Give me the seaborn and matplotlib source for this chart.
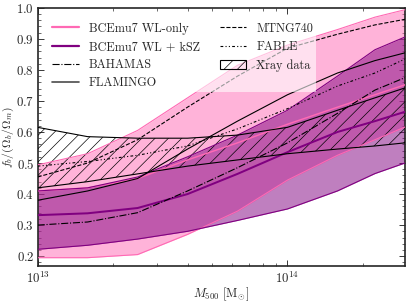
import numpy as np
import pandas as pd
import seaborn as sns
import matplotlib.pyplot as plt
from matplotlib.lines import Line2D
from matplotlib.patches import Patch
from matplotlib.ticker import MultipleLocator


# log10 of M500 [Msun], common grid for all curves
log_mass = [13.0, 13.2, 13.4, 13.6, 13.8, 14.0, 14.2, 14.35, 14.47]

# BCEmu7 WL-only band (lower, median, upper)
wl_lower = [0.195, 0.195, 0.205, 0.27, 0.345, 0.445, 0.525, 0.575, 0.616]
wl_median = [0.41, 0.42, 0.45, 0.51, 0.565, 0.625, 0.68, 0.72, 0.752]
wl_upper = [0.494, 0.53, 0.605, 0.71, 0.815, 0.88, 0.93, 0.97, 0.994]

# BCEmu7 WL + kSZ band
ksz_lower = [0.222, 0.235, 0.255, 0.28, 0.315, 0.352, 0.41, 0.466, 0.50]
ksz_median = [0.332, 0.338, 0.355, 0.40, 0.465, 0.535, 0.60, 0.635, 0.665]
ksz_upper = [0.41, 0.42, 0.455, 0.52, 0.59, 0.67, 0.78, 0.865, 0.906]

# Xray data band
xray_lower = [0.42, 0.44, 0.465, 0.49, 0.51, 0.53, 0.545, 0.555, 0.565]
xray_upper = [0.615, 0.585, 0.58, 0.58, 0.59, 0.615, 0.67, 0.71, 0.742]

# simulations
bahamas = [0.30, 0.31, 0.34, 0.41, 0.485, 0.565, 0.66, 0.735, 0.775]
flamingo = [0.38, 0.41, 0.45, 0.545, 0.635, 0.72, 0.79, 0.83, 0.855]
mtng740 = [0.455, 0.50, 0.575, 0.68, 0.78, 0.87, 0.915, 0.945, 0.963]
fable = [0.49, 0.505, 0.525, 0.555, 0.61, 0.675, 0.748, 0.79, 0.835]

df = pd.DataFrame({"M500": 10 ** np.array(log_mass)})

sns.set_style("ticks")
plt.rcParams.update({
    "font.family": ["cmr10"],
    "mathtext.fontset": "cm",
    "axes.formatter.use_mathtext": True,
    "font.size": 11.5,
    "xtick.direction": "in",
    "ytick.direction": "in",
    "xtick.top": True,
    "ytick.right": True,
    "xtick.major.size": 5,
    "ytick.major.size": 5,
    "xtick.minor.size": 3,
    "ytick.minor.size": 3,
    "xtick.major.pad": 4,
    "ytick.major.pad": 3,
    "axes.linewidth": 1.5,
    "hatch.color": "black",
    "hatch.linewidth": 0.6,
})

pink = "hotpink"
purple = "purple"
fable_ls = (0, (2.5, 2, 1, 2, 1, 2))

fig = plt.figure(figsize=(409 / 80, 302 / 80), dpi=80)
ax = fig.add_axes([0.092, 0.119, 0.898, 0.855])

m = df["M500"]
ax.fill_between(m, wl_lower, wl_upper, color=pink, alpha=0.5, lw=0, zorder=1)
ax.fill_between(m, ksz_lower, ksz_upper, color=purple, alpha=0.5, lw=0, zorder=2)
ax.fill_between(m, xray_lower, xray_upper, facecolor="none", edgecolor="black",
                hatch="//", lw=0, zorder=3)

for y in (wl_lower, wl_upper):
    sns.lineplot(x=m, y=y, ax=ax, color=pink, lw=1.0, zorder=4)
sns.lineplot(x=m, y=wl_median, ax=ax, color=pink, lw=1.3, zorder=4)
for y in (ksz_lower, ksz_upper):
    sns.lineplot(x=m, y=y, ax=ax, color=purple, lw=1.0, zorder=4)
sns.lineplot(x=m, y=ksz_median, ax=ax, color=purple, lw=1.8, zorder=4)
for y in (xray_lower, xray_upper):
    sns.lineplot(x=m, y=y, ax=ax, color="black", lw=1.0, zorder=5)

sns.lineplot(x=m, y=bahamas, ax=ax, color="black", lw=1.0, ls="-.", zorder=5)
sns.lineplot(x=m, y=flamingo, ax=ax, color="black", lw=1.0, ls="-", zorder=5)
sns.lineplot(x=m, y=mtng740, ax=ax, color="black", lw=1.0, ls="--", zorder=5)
sns.lineplot(x=m, y=fable, ax=ax, color="black", lw=1.0, ls=fable_ls, zorder=5)

ax.set_xscale("log")
ax.set_xlim(1e13, 10 ** 14.47)
ax.set_ylim(0.168, 1.0)
ax.yaxis.set_major_locator(MultipleLocator(0.1))
ax.yaxis.set_minor_locator(MultipleLocator(0.02))
ax.set_xlabel(r"$M_{500}$ [M$_{\odot}$]", labelpad=0, fontsize=11)
ax.set_ylabel(r"$f_b/(\Omega_b/\Omega_m)$", labelpad=0, fontsize=10.5)

handles = [
    Line2D([], [], color=pink, lw=2),
    Line2D([], [], color=purple, lw=2),
    Line2D([], [], color="black", lw=1, ls="-."),
    Line2D([], [], color="black", lw=1.5, alpha=0.7),
    Line2D([], [], color="black", lw=1, ls="--"),
    Line2D([], [], color="black", lw=1, ls=fable_ls),
    Patch(facecolor="none", edgecolor="black", hatch="//", lw=1),
]
labels = ["BCEmu7 WL-only", "BCEmu7 WL + kSZ", "BAHAMAS", "FLAMINGO",
          "MTNG740", "FABLE", "Xray data"]
leg = ax.legend(handles, labels, ncol=2, loc="upper left", frameon=True,
                fancybox=False, framealpha=0.6, edgecolor="none",
                handlelength=2.2, handletextpad=0.8, columnspacing=1.6,
                labelspacing=0.5, borderpad=0.2, borderaxespad=1.0,
                fontsize=11)
leg.set_zorder(10)

fig.savefig("out.png", dpi=80)
